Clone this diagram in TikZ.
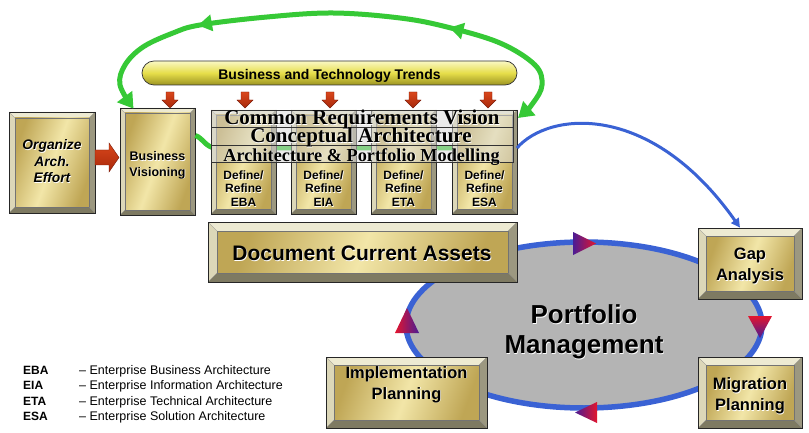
\documentclass[tikz,border=0pt]{standalone}
\usepackage{fontspec}
\setmainfont{Liberation Serif}
\setsansfont{Liberation Sans}
\usetikzlibrary{shapes.geometric,arrows.meta,decorations.markings}

\definecolor{bevT}{HTML}{EDEAD2}
\definecolor{bevL}{HTML}{DCD7B8}
\definecolor{bevR}{HTML}{9C9880}
\definecolor{bevB}{HTML}{7E7A62}
\definecolor{goldA}{HTML}{BFA655}
\definecolor{goldB}{HTML}{F2E6A8}
\definecolor{loopgreen}{HTML}{36C936}
\definecolor{cycblue}{HTML}{3A62D4}
\definecolor{pmgray}{HTML}{B4B4B4}
\definecolor{arrred}{HTML}{D9471C}
\definecolor{arrdeep}{HTML}{A8280A}
\definecolor{arrdark}{HTML}{7A1A08}
\definecolor{tripurple}{HTML}{4B1C94}
\definecolor{trired}{HTML}{E3152E}
\definecolor{barlight}{HTML}{FAF8C4}
\definecolor{barmid}{HTML}{E6DE4A}
\definecolor{bardark}{HTML}{9C9422}

% embossed text: white copy slightly offset behind the black one
\newcommand\emb[1]{\leavevmode\rlap{\kern0.7pt\raisebox{-0.7pt}{\color{white}#1}}#1}

\tikzset{
  bev/.style={draw=black!85, line width=0.7pt, inner sep=0pt,
    path picture={
      \coordinate (pa) at (path picture bounding box.north west);
      \coordinate (pb) at (path picture bounding box.north east);
      \coordinate (pc) at (path picture bounding box.south east);
      \coordinate (pd) at (path picture bounding box.south west);
      \coordinate (qa) at ([xshift=#1pt,yshift=-#1pt]pa);
      \coordinate (qb) at ([xshift=-#1pt,yshift=-#1pt]pb);
      \coordinate (qc) at ([xshift=-#1pt,yshift=#1pt]pc);
      \coordinate (qd) at ([xshift=#1pt,yshift=#1pt]pd);
      \fill[bevT] (pa)--(pb)--(qb)--(qa)--cycle;
      \fill[bevL] (pa)--(qa)--(qd)--(pd)--cycle;
      \fill[bevR] (pb)--(pc)--(qc)--(qb)--cycle;
      \fill[bevB] (pd)--(qd)--(qc)--(pc)--cycle;
      \shade[left color=goldA, right color=goldA, middle color=goldB, shading angle=70] (qa) rectangle (qc);
      \draw[black!55, line width=0.4pt] (qa) rectangle (qc);
      \draw[black!45, line width=0.3pt] (pa)--(qa) (pb)--(qb) (pc)--(qc) (pd)--(qd);
    }},
  boxtext/.style 2 args={inner sep=0pt, align=center, font=\sffamily\bfseries\fontsize{#1}{#2}\selectfont},
  deftext/.style={inner sep=0pt, align=center, font=\sffamily\bfseries\fontsize{12}{13.5}\selectfont},
  rowbox/.style={draw=black!80, line width=0.6pt, fill=gray!30, fill opacity=0.5, minimum width=302pt, inner sep=0pt},
  rowtext/.style={inner sep=0pt, anchor=base, font=\rmfamily\bfseries\fontsize{#1}{#1}\selectfont},
  redblk/.style={top color=arrred, bottom color=arrdeep, draw=arrdark, line width=0.4pt},
  greenline/.style={draw=loopgreen, line width=5pt},
  legab/.style={inner sep=0pt, anchor=base west, font=\sffamily\bfseries\fontsize{12}{14}\selectfont},
  legtx/.style={inner sep=0pt, anchor=base west, font=\sffamily\fontsize{12.5}{14}\selectfont},
}

\begin{document}
\begin{tikzpicture}[x=1pt,y=-1pt]
\useasboundingbox (0,0) rectangle (809,433);
\fill[white] (0,0) rectangle (809,433);

% portfolio management cycle
\node[ellipse, draw=cycblue, line width=5.5pt, fill=pmgray, minimum width=356pt, minimum height=166pt, inner sep=0pt] (pm) at (584,325) {};
\node[inner sep=0pt, align=center, font=\sffamily\bfseries\fontsize{26}{30}\selectfont] (pmt) at (584,332) {\emb{Portfolio}\\\emb{Management}};
\shade[left color=tripurple, right color=trired] (573,232) -- (596,243.5) -- (573,255) -- cycle;
\shade[top color=trired, bottom color=tripurple] (748,316) -- (772,316) -- (760,338) -- cycle;
\shade[left color=tripurple, right color=trired] (575,412.5) -- (597,402) -- (597,423) -- cycle;
\shade[left color=trired, right color=tripurple] (407,308) -- (419,333) -- (395,333) -- cycle;

% trends bar
\node[draw=black!80, line width=0.7pt, rounded corners=12pt, top color=barlight, bottom color=bardark, middle color=barmid, minimum width=375pt, minimum height=24pt, inner sep=0pt] (trend) at (329.5,73) {};
\node[inner sep=0pt, anchor=base, font=\sffamily\bfseries\fontsize{14}{16}\selectfont] (trendt) at (329.5,80) {Business and Technology Trends};

% small arrows from the trends bar
\foreach \ax in {170,245,330,413,488}{
  \draw[redblk] (\ax-4,92) -- (\ax+4,92) -- (\ax+4,100) -- (\ax+8,100) -- (\ax,108) -- (\ax-8,100) -- (\ax-4,100) -- cycle;
}

% green feedback passing behind the architecture rows
\node[bev=5, minimum width=75pt, minimum height=107pt] (bv) at (157.5,161.5) {};
\coordinate (g2) at (452,148);
\draw[greenline] ([yshift=26pt]bv.east) .. controls (203,138) and (206,148) .. (216,148) -- (g2);
\node[boxtext={12.5}{15.5}] (bvt) at (157.5,165.5) {\emb{Business}\\\emb{Visioning}};

% organize box and block arrow
\node[bev=6, minimum width=86pt, minimum height=101pt] (org) at (52,162.5) {};
\node[inner sep=0pt, align=center, font=\sffamily\bfseries\itshape\fontsize{13.8}{16.5}\selectfont] (orgt) at (52,161.5) {\emb{Organize}\\\emb{Arch.}\\\emb{Effort}};
\draw[redblk] (95,150) -- (109,150) -- (109,143) -- (119,157.5) -- (109,172) -- (109,165) -- (95,165) -- cycle;

% define / refine boxes
\node[bev=5, minimum width=65pt, minimum height=104pt] (eba) at (243.5,162) {};
\node[bev=5, minimum width=65pt, minimum height=104pt] (eia) at (323.5,162) {};
\node[bev=5, minimum width=65pt, minimum height=104pt] (eta) at (403.5,162) {};
\node[bev=5, minimum width=65pt, minimum height=104pt] (esa) at (484.5,162) {};
\node[deftext] (ebat) at (243.5,189) {\emb{Define/}\\\emb{Refine}\\\emb{EBA}};
\node[deftext] (eiat) at (323.5,189) {\emb{Define/}\\\emb{Refine}\\\emb{EIA}};
\node[deftext] (etat) at (403.5,189) {\emb{Define/}\\\emb{Refine}\\\emb{ETA}};
\node[deftext] (esat) at (484.5,189) {\emb{Define/}\\\emb{Refine}\\\emb{ESA}};

% architecture rows
\node[rowbox, minimum height=17pt] (r1) at (362,118.5) {};
\node[rowbox, minimum height=18pt] (r2) at (362,136) {};
\node[rowbox, minimum height=17pt] (r3) at (362,153.5) {};
\node[rowtext=21] (r1t) at (362,125) {\emb{Common Requirements Vision}};
\node[rowtext=21] (r2t) at (361,143) {\emb{Conceptual Architecture}};
\node[rowtext=18.3] (r3t) at (361.5,161) {\emb{Architecture \& Portfolio Modelling}};

% lower boxes
\node[bev=9, minimum width=309pt, minimum height=60pt] (dca) at (362.5,252) {};
\node[inner sep=0pt, anchor=base, font=\sffamily\bfseries\fontsize{21}{24}\selectfont] (dcat) at (362,260.5) {\emb{Document Current Assets}};
\node[bev=8, minimum width=104pt, minimum height=71pt] (gap) at (750,263.5) {};
\node[boxtext={16.5}{21}] (gapt) at (750,266.3) {\emb{Gap}\\\emb{Analysis}};
\node[bev=8, minimum width=104pt, minimum height=71pt] (mig) at (750,392.5) {};
\node[boxtext={16.5}{21}] (migt) at (750,396.3) {\emb{Migration}\\\emb{Planning}};
\node[bev=8, minimum width=161pt, minimum height=71pt] (imp) at (406.5,392.5) {};
\node[boxtext={16.5}{21}] (impt) at (406.5,384.9) {\emb{Implementation}\\\emb{Planning}};

% link from the modelling row to the gap analysis
\coordinate (bstart) at (517,148);
\draw[cycblue, line width=3pt, -{Triangle[length=9pt,width=9pt]}] (bstart) .. controls (548,112) and (650,100) .. ([xshift=-10pt]gap.north);

% green iteration loop
\coordinate (gl1) at (518,118);
\coordinate (gl2) at ([xshift=-24pt,yshift=-1pt]bv.north);
\draw[greenline, {Triangle[length=15pt,width=18pt]}-{Triangle[length=15pt,width=18pt]},
  postaction={decorate},
  decoration={markings,
    mark=at position 0.29 with {\arrow[loopgreen]{Triangle[length=14pt,width=16pt]}},
    mark=at position 0.755 with {\arrow[loopgreen]{Triangle[length=14pt,width=16pt]}}}]
  plot[smooth, tension=0.6] coordinates {(gl1) (533,103) (542,85) (535,65) (500,43) (447,27) (400,18) (333,13) (267,17) (200,25) (173,33) (143,47) (125,65) (120,85) (gl2)};

% legend
\node[legab] (l1a) at (23,374) {EBA};
\node[legtx] (l1b) at (79,374) {– Enterprise Business Architecture};
\node[legab] (l2a) at (23,389.5) {EIA};
\node[legtx] (l2b) at (79,389.5) {– Enterprise Information Architecture};
\node[legab] (l3a) at (23,405) {ETA};
\node[legtx] (l3b) at (79,405) {– Enterprise Technical Architecture};
\node[legab] (l4a) at (23,420) {ESA};
\node[legtx] (l4b) at (79,420) {– Enterprise Solution Architecture};
\end{tikzpicture}
\end{document}
